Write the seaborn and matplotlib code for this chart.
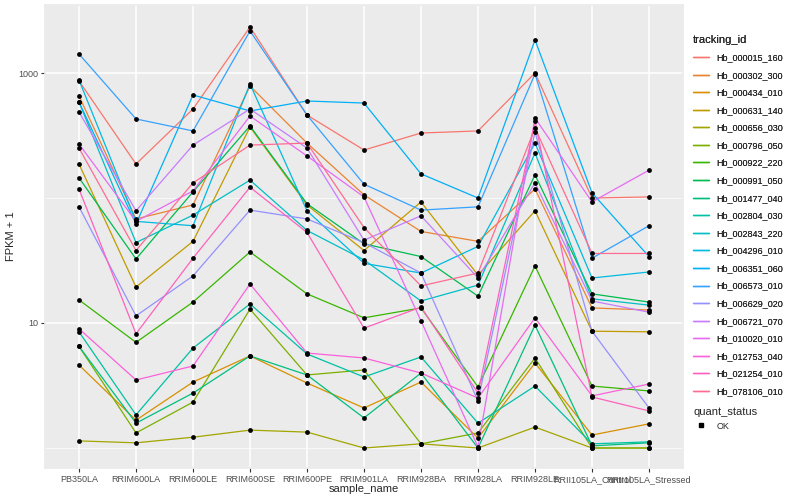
import pandas as pd
import matplotlib
matplotlib.use("Agg")
import matplotlib.pyplot as plt
from matplotlib.lines import Line2D
from matplotlib.ticker import FixedLocator, NullFormatter
import seaborn as sns

samples = ["PB350LA", "RRIM600LA", "RRIM600LE", "RRIM600SE", "RRIM600PE", "RRIM901LA",
           "RRIM928BA", "RRIM928LA", "RRIM928LE", "RRII105LA_Control", "RRII105LA_Stressed"]

genes = ["Hb_000015_160", "Hb_000302_300", "Hb_000434_010", "Hb_000631_140", "Hb_000656_030",
         "Hb_000796_050", "Hb_000922_220", "Hb_000991_050", "Hb_001477_040", "Hb_002804_030",
         "Hb_002843_220", "Hb_004296_010", "Hb_006351_060", "Hb_006573_010", "Hb_006629_020",
         "Hb_006721_070", "Hb_010020_010", "Hb_012753_040", "Hb_021254_010", "Hb_078106_010"]

# ggplot hue palette, 20 levels
colors = ["#F8766D", "#EA8331", "#D89000", "#C09B00", "#A3A500", "#7CAE00", "#39B600", "#00BB4E",
          "#00BF7D", "#00C1A3", "#00BFC4", "#00BAE0", "#00B0F6", "#35A2FF", "#9590FF", "#C77CFF",
          "#E76BF3", "#FA62DB", "#FF62BC", "#FF6C91"]

# FPKM + 1 per sample
hb_000015_160 = [863, 187, 515, 2333, 461, 242, 331, 344, 1000, 100, 102]
hb_000302_300 = [655, 68, 88, 787, 275, 106, 54, 45, 118, 13.2, 12.7]
hb_000434_010 = [4.61, 1.67, 3.37, 5.45, 3.31, 2.09, 3.37, 1.20, 4.79, 1.27, 1.56]
hb_000631_140 = [187, 19.4, 45, 370, 88, 38, 93, 24.2, 79, 8.6, 8.5]
hb_000656_030 = [1.14, 1.10, 1.22, 1.39, 1.34, 1.0, 1.08, 1.0, 1.47, 1.0, 1.0]
hb_000796_050 = [6.5, 1.32, 2.33, 12.9, 3.84, 4.21, 1.08, 1.32, 5.25, 1.0, 1.0]
hb_000922_220 = [15.3, 7.0, 14.7, 37, 17.1, 11.0, 13.2, 3.08, 28.6, 3.13, 2.86]
hb_000991_050 = [145, 32.5, 112, 377, 90, 43, 34, 16.4, 153, 17.1, 14.7]
hb_001477_040 = [6.5, 1.58, 2.75, 5.45, 3.84, 1.74, 3.98, 1.0, 9.6, 1.04, 1.10]
hb_002804_030 = [8.5, 1.84, 6.3, 14.2, 5.65, 3.70, 5.35, 1.58, 3.13, 1.08, 1.12]
hb_002843_220 = [586, 44, 73, 139, 55, 32, 15.0, 20.1, 229, 15.6, 13.9]
hb_004296_010 = [879, 65, 60, 817, 79, 30, 25.1, 41, 275, 22.9, 25.6]
hb_006351_060 = [586, 62, 667, 497, 597, 575, 156, 100, 1837, 110, 34]
hb_006573_010 = [1419, 429, 344, 2168, 461, 129, 80, 85, 982, 33, 60]
hb_006629_020 = [85, 11.4, 23.8, 80, 68, 44, 25.1, 2.38, 337, 8.6, 2.09]
hb_006721_070 = [488, 79, 265, 515, 251, 46, 72, 22.9, 132, 15.0, 12.2]
hb_010020_010 = [270, 65, 114, 453, 217, 102, 10.4, 1.02, 437, 93, 167]
hb_012753_040 = [9.0, 3.50, 4.53, 20.5, 5.75, 5.25, 3.98, 2.51, 11.0, 2.61, 3.25]
hb_021254_010 = [118, 8.2, 33, 122, 53, 9.1, 13.4, 2.75, 413, 2.56, 1.98]
hb_078106_010 = [251, 38, 132, 265, 275, 58, 19.8, 25.1, 363, 36, 36]

series = [hb_000015_160, hb_000302_300, hb_000434_010, hb_000631_140, hb_000656_030,
          hb_000796_050, hb_000922_220, hb_000991_050, hb_001477_040, hb_002804_030,
          hb_002843_220, hb_004296_010, hb_006351_060, hb_006573_010, hb_006629_020,
          hb_006721_070, hb_010020_010, hb_012753_040, hb_021254_010, hb_078106_010]

rows = []
for gene, vals in zip(genes, series):
    for s, v in zip(samples, vals):
        rows.append({"tracking_id": gene, "sample_name": s, "fpkm": v, "quant_status": "OK"})
df = pd.DataFrame(rows)

sns.set_theme(style="darkgrid", rc={
    "axes.facecolor": "#EBEBEB",
    "grid.color": "white",
    "axes.edgecolor": "#EBEBEB",
    "xtick.color": "#333333",
    "ytick.color": "#333333",
})
plt.rcParams["font.family"] = ["Liberation Sans", "DejaVu Sans"]

fig, ax = plt.subplots(figsize=(8, 5), dpi=100)
fig.subplots_adjust(left=0.056, right=0.854, top=0.99, bottom=0.064)

sns.lineplot(data=df, x="sample_name", y="fpkm", hue="tracking_id", palette=colors,
             estimator=None, sort=False, lw=0.9, legend=False, ax=ax)
sns.scatterplot(data=df, x="sample_name", y="fpkm", color="black", s=12, linewidth=0,
                legend=False, ax=ax, zorder=3)

ax.set_yscale("log")
ax.set_xlim(-0.6, 10.6)
ax.set_ylim(10 ** -0.16, 10 ** 3.544)
ax.set_yticks([10, 1000])
ax.set_yticklabels(["10", "1000"])
ax.yaxis.set_minor_locator(FixedLocator([1, 100]))
ax.yaxis.set_minor_formatter(NullFormatter())
ax.grid(which="major", color="white", lw=1.1)
ax.grid(which="minor", axis="y", color="white", lw=0.5)
ax.tick_params(axis="both", which="major", length=3, width=0.8, labelsize=6.5,
               labelcolor="#4D4D4D", pad=2, bottom=True, left=True)
ax.tick_params(axis="y", which="minor", length=0)
ax.set_xlabel("sample_name", fontsize=8, labelpad=0)
ax.set_ylabel("FPKM + 1", fontsize=8, labelpad=1)

gene_handles = [Line2D([0], [0], color=c, lw=1) for c in colors]
leg1 = fig.legend(gene_handles, genes, title="tracking_id", loc="upper left",
                  bbox_to_anchor=(0.862, 0.938), frameon=False, fontsize=6.5,
                  title_fontsize=8, handlelength=1.8, labelspacing=0.95,
                  alignment="left", borderaxespad=0)
fig.add_artist(leg1)
ok_handle = [Line2D([0], [0], marker="s", color="black", lw=0, markersize=2.5)]
fig.legend(ok_handle, ["OK"], title="quant_status", loc="upper left",
           bbox_to_anchor=(0.862, 0.193), frameon=False, fontsize=6.5,
           title_fontsize=8, handlelength=1.8, alignment="left", borderaxespad=0)

fig.savefig("out.png", dpi=100)
